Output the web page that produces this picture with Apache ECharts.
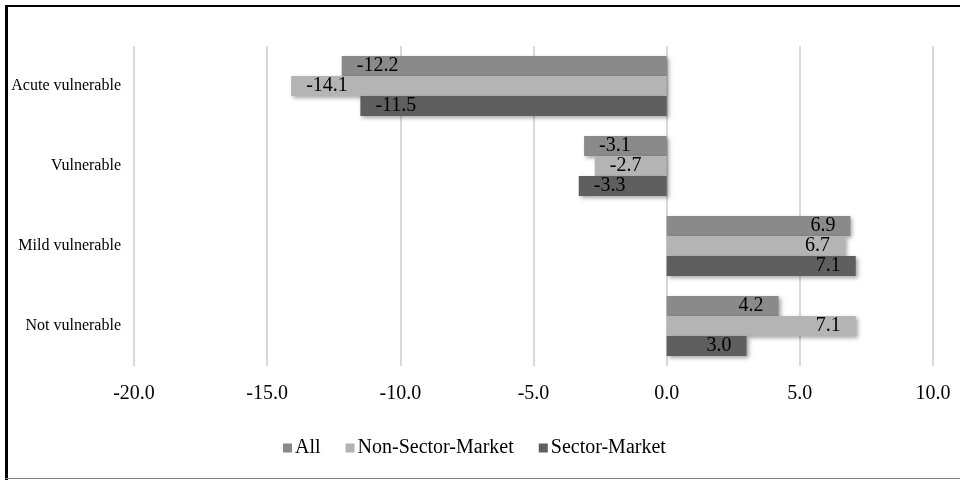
<!DOCTYPE html>
<html>
<head>
<meta charset="utf-8">
<script src="https://cdn.jsdelivr.net/npm/echarts@6/dist/echarts.min.js"></script>
<style>html,body{margin:0;padding:0;background:#fff}#c{width:960px;height:480px}</style>
</head>
<body>
<div id="c"></div>
<script>
const categories = ['Acute vulnerable', 'Vulnerable', 'Mild vulnerable', 'Not vulnerable'];
const seriesNames = ['All', 'Non-Sector-Market', 'Sector-Market'];
const allValues = [-12.2, -3.1, 6.9, 4.2];
const nonSectorValues = [-14.1, -2.7, 6.7, 7.1];
const sectorValues = [-11.5, -3.3, 7.1, 3.0];
const colors = ['#8a8a8a', '#b4b4b4', '#5f5f5f'];
const FONT = '"Liberation Serif", "Times New Roman", serif';

function mk(name, vals, color) {
  return {
    name: name, type: 'bar', barGap: '0%', barCategoryGap: '25%',
    itemStyle: { color: color, shadowBlur: 4, shadowOffsetX: 2, shadowOffsetY: 2, shadowColor: 'rgba(0,0,0,0.35)' },
    data: vals.map(v => ({
      value: v,
      label: { position: v < 0 ? 'insideLeft' : 'insideRight' }
    })),
    label: {
      show: true, distance: 15, color: '#000', fontFamily: FONT, fontSize: 20, padding: [2,0,0,0],
      formatter: p => p.value.toFixed(1)
    }
  };
}

const chart = echarts.init(document.getElementById('c'), null, { renderer: 'canvas' });
chart.setOption({
  animation: false,
  backgroundColor: '#fff',
  grid: { left: 134, right: 27, top: 46, bottom: 114, containLabel: false },
  xAxis: {
    type: 'value', min: -20, max: 10, interval: 5,
    axisLine: { show: false }, axisTick: { show: false },
    splitLine: { lineStyle: { color: '#d9d9d9', width: 2 } },
    axisLabel: { color: '#000', fontFamily: FONT, fontSize: 20, margin: 18, formatter: v => v.toFixed(1) }
  },
  yAxis: {
    type: 'category', data: categories, inverse: true,
    axisLine: { show: false }, axisTick: { show: false },
    axisLabel: { color: '#000', fontFamily: FONT, fontSize: 16, margin: 13 }
  },
  legend: {
    data: seriesNames, bottom: 17, left: 278, icon: 'rect', itemWidth: 9, itemHeight: 9,
    itemGap: 25, textStyle: { color: '#000', fontFamily: FONT, fontSize: 20, padding: [0,0,0,-2] }
  },
  graphic: [
    { type: 'rect', shape: { x: 5, y: 5, width: 3, height: 475 }, style: { fill: '#000' }, silent: true },
    { type: 'rect', shape: { x: 5, y: 5, width: 955, height: 2 }, style: { fill: '#000' }, silent: true },
    { type: 'rect', shape: { x: 5, y: 478, width: 955, height: 1 }, style: { fill: '#808080' }, silent: true }
  ],
  series: [
    mk(seriesNames[0], allValues, colors[0]),
    mk(seriesNames[1], nonSectorValues, colors[1]),
    mk(seriesNames[2], sectorValues, colors[2])
  ]
});
</script>
</body>
</html>
